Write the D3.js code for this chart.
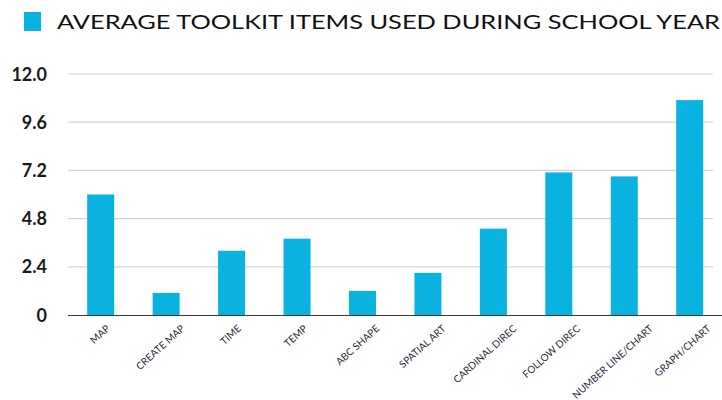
<!DOCTYPE html>
<html>
<head>
<meta charset="utf-8">
<script src="https://cdn.jsdelivr.net/npm/d3@7"></script>
<style>
  body { margin: 0; background: #fff; }
  svg { display: block; }
</style>
</head>
<body>
<svg width="722" height="400"></svg>
<script>
// data
let categories = ["MAP", "CREATE MAP", "TIME", "TEMP", "ABC SHAPE", "SPATIAL ART",
    "CARDINAL DIREC", "FOLLOW DIREC", "NUMBER LINE/CHART", "GRAPH/CHART"];
let values = [6.0, 1.1, 3.2, 3.8, 1.2, 2.1, 4.3, 7.1, 6.9, 10.7];
let yTicks = [0, 2.4, 4.8, 7.2, 9.6, 12.0];
let seriesName = "AVERAGE TOOLKIT ITEMS USED DURING SCHOOL YEAR";

let barColor = "#0ab3df";
let svg = d3.select("svg");

let plotLeft = 68, plotRight = 722.4, plotTop = 74, plotBottom = 315;

let xScale = d3.scaleBand()
    .domain(categories)
    .range([plotLeft, plotRight])
    .paddingInner(0.587)
    .paddingOuter(0.293);

let yScale = d3.scaleLinear()
    .domain([0, 12])
    .range([plotBottom, plotTop]);

// gridlines
svg.append("g")
    .selectAll("line")
    .data(yTicks.filter(d => d > 0))
    .enter().append("line")
    .attr("x1", plotLeft)
    .attr("x2", 713)
    .attr("y1", d => yScale(d))
    .attr("y2", d => yScale(d))
    .attr("stroke", "#d4d4d4")
    .attr("stroke-width", 1.2);

// y labels
svg.append("g")
    .selectAll("text")
    .data(yTicks)
    .enter().append("text")
    .attr("x", 47)
    .attr("y", d => yScale(d) + 6.5)
    .attr("text-anchor", "end")
    .style("font-family", "Lato, sans-serif")
    .style("font-weight", "bold")
    .style("font-size", "18px")
    .style("fill", "#1a1a1a")
    .text(d => d === 0 ? "0" : d.toFixed(1));

// bars
svg.append("g")
    .selectAll("rect")
    .data(values)
    .enter().append("rect")
    .attr("x", (d, i) => xScale(categories[i]))
    .attr("width", xScale.bandwidth())
    .attr("y", d => yScale(d))
    .attr("height", d => plotBottom - yScale(d))
    .attr("fill", barColor);

// baseline
svg.append("line")
    .attr("x1", plotLeft).attr("x2", 722)
    .attr("y1", plotBottom + 0.5).attr("y2", plotBottom + 0.5)
    .attr("stroke", "#3a3a3a")
    .attr("stroke-width", 1.2);

// x labels, rotated
let angle = 42;
let xl = svg.append("g")
    .selectAll("text")
    .data(categories)
    .enter().append("text")
    .attr("text-anchor", "end")
    .style("font-family", "Lato, sans-serif")
    .style("font-size", "10px")
    .style("fill", "#2a2a3a")
    .text(d => d);

xl.attr("transform", function (d) {
    let L = this.getComputedTextLength();
    let cx = xScale(d) + xScale.bandwidth() / 2 + 0.24 * L + 4.5;
    return "translate(" + cx + "," + 329.5 + ") rotate(" + (-angle) + ")";
});

// legend / title
svg.append("rect")
    .attr("x", 24).attr("y", 12)
    .attr("width", 17).attr("height", 19)
    .attr("fill", barColor);

svg.append("text")
    .attr("x", 57)
    .attr("y", 28.5)
    .attr("textLength", 663)
    .attr("lengthAdjust", "spacingAndGlyphs")
    .style("font-family", "Lato, sans-serif")
    .style("font-size", "19px")
    .style("fill", "#111")
    .text(seriesName);
</script>
</body>
</html>
